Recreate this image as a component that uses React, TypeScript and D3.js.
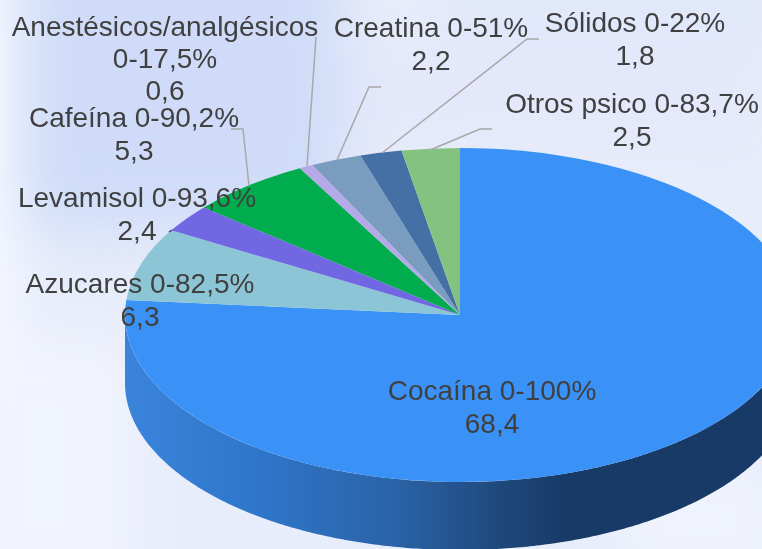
import React from 'react';
import * as d3 from 'd3';

const categories = ['Cocaína', 'Azucares', 'Levamisol', 'Cafeína', 'Anestésicos/analgésicos', 'Creatina', 'Sólidos', 'Otros psico'];
const ranges = ['0-100%', '0-82,5%', '0-93,6%', '0-90,2%', '0-17,5%', '0-51%', '0-22%', '0-83,7%'];
const values = [68.4, 6.3, 2.4, 5.3, 0.6, 2.2, 1.8, 2.5];
const colors = ['#3a92f6', '#8cc6d6', '#7267e2', '#00ac4e', '#b5a9e8', '#7a9dbf', '#4570a5', '#84c280'];

// label centre x and first baseline, same order as categories
const labelX = [492, 140, 137, 134, 165, 431, 635, 632];
const labelY = [400, 293, 207, 127, 36, 37, 32, 113];

const leaders = [
  [[316, 37], [307, 166]],
  [[381, 87], [369, 87], [337, 160]],
  [[231, 129], [243, 129], [249, 186]],
  [[539, 39], [527, 39], [382, 153]],
  [[492, 129], [480, 129], [430, 150]],
];

const blobs = [
  { x: 20, y: -60, w: 320, h: 290, c: '#cddaf8', o: 0.95 },
  { x: 60, y: 200, w: 90, h: 50, c: '#d6e1fa', o: 0.7 },
  { x: 340, y: 40, w: 422, h: 110, c: '#e3e8fa', o: 0.9 },
  { x: 440, y: -40, w: 340, h: 80, c: '#dfe7fa', o: 0.8 },
  { x: -40, y: 340, w: 170, h: 250, c: '#f2f5fd', o: 0.9 },
  { x: -60, y: -40, w: 70, h: 400, c: '#f8faff', o: 1 },
  { x: 620, y: 470, w: 160, h: 100, c: '#f1f4fc', o: 0.9 },
];

const width = 762;
const height = 549;
const cx = 460;
const cy = 315;
const rx = 335;
const ry = 167;
const depth = 68;

const App = () => {
  const pie = d3.pie<number>().sort(null).value((d) => d);
  const arcs = pie(values);
  const arc = d3.arc<d3.PieArcDatum<number>>().innerRadius(0).outerRadius(rx);

  // visible outer wall, right edge round the front to the left edge
  const wall = d3
    .area<number>()
    .x((a) => cx + rx * Math.sin(a))
    .y0((a) => cy - ry * Math.cos(a))
    .y1((a) => cy - ry * Math.cos(a) + depth)(d3.range(Math.PI / 2, (Math.PI * 3) / 2 + 0.005, 0.01));

  const line = d3.line();

  return (
    <svg
      width={width}
      height={height}
      viewBox={`0 0 ${width} ${height}`}
      style={{ position: 'absolute', left: 0, top: 0, display: 'block' }}
    >
      <defs>
        <filter id="blur" filterUnits="userSpaceOnUse" x={-100} y={-100} width={width + 200} height={height + 200}>
          <feGaussianBlur stdDeviation="28" />
        </filter>
        <linearGradient id="wallFill" gradientUnits="userSpaceOnUse" x1={125} x2={795} y1={0} y2={0}>
          <stop offset="0" stopColor="#3a84dc" />
          <stop offset="0.2" stopColor="#2f76ca" />
          <stop offset="0.4" stopColor="#2a63a8" />
          <stop offset="0.55" stopColor="#1f4a7e" />
          <stop offset="0.66" stopColor="#173a66" />
          <stop offset="1" stopColor="#173a66" />
        </linearGradient>
      </defs>

      <rect width={width} height={height} fill="#e8edfb" />
      <g filter="url(#blur)">
        {blobs.map((b, i) => (
          <rect key={i} x={b.x} y={b.y} width={b.w} height={b.h} fill={b.c} opacity={b.o} />
        ))}
      </g>

      <path d={wall ?? ''} fill="url(#wallFill)" />
      <g transform={`translate(${cx},${cy}) scale(1,${ry / rx})`}>
        {arcs.map((d, i) => (
          <path key={categories[i]} d={arc(d) ?? ''} fill={colors[i]} />
        ))}
      </g>

      {leaders.map((pts, i) => (
        <path key={i} d={line(pts as [number, number][]) ?? ''} fill="none" stroke="#a8a8a8" strokeWidth={1.5} />
      ))}
      {/* Levamisol's leader is only a stub in the reference */}
      <path d="M169,232L172,230" stroke="#3f3a8f" strokeWidth={1.5} />

      <g fontFamily="'Liberation Sans', Arial, sans-serif" fontSize={28} fill="#404040" textAnchor="middle">
        {categories.map((name, i) =>
          name.length > 20 ? (
            <text key={name} x={labelX[i]} y={labelY[i]}>
              <tspan x={labelX[i]}>{name}</tspan>
              <tspan x={labelX[i]} dy={32}>{ranges[i]}</tspan>
              <tspan x={labelX[i]} dy={32}>{String(values[i]).replace('.', ',')}</tspan>
            </text>
          ) : (
            <text key={name} x={labelX[i]} y={labelY[i]}>
              <tspan x={labelX[i]}>{`${name} ${ranges[i]}`}</tspan>
              <tspan x={labelX[i]} dy={32.5}>{String(values[i]).replace('.', ',')}</tspan>
            </text>
          ),
        )}
      </g>
    </svg>
  );
};

export default App;
